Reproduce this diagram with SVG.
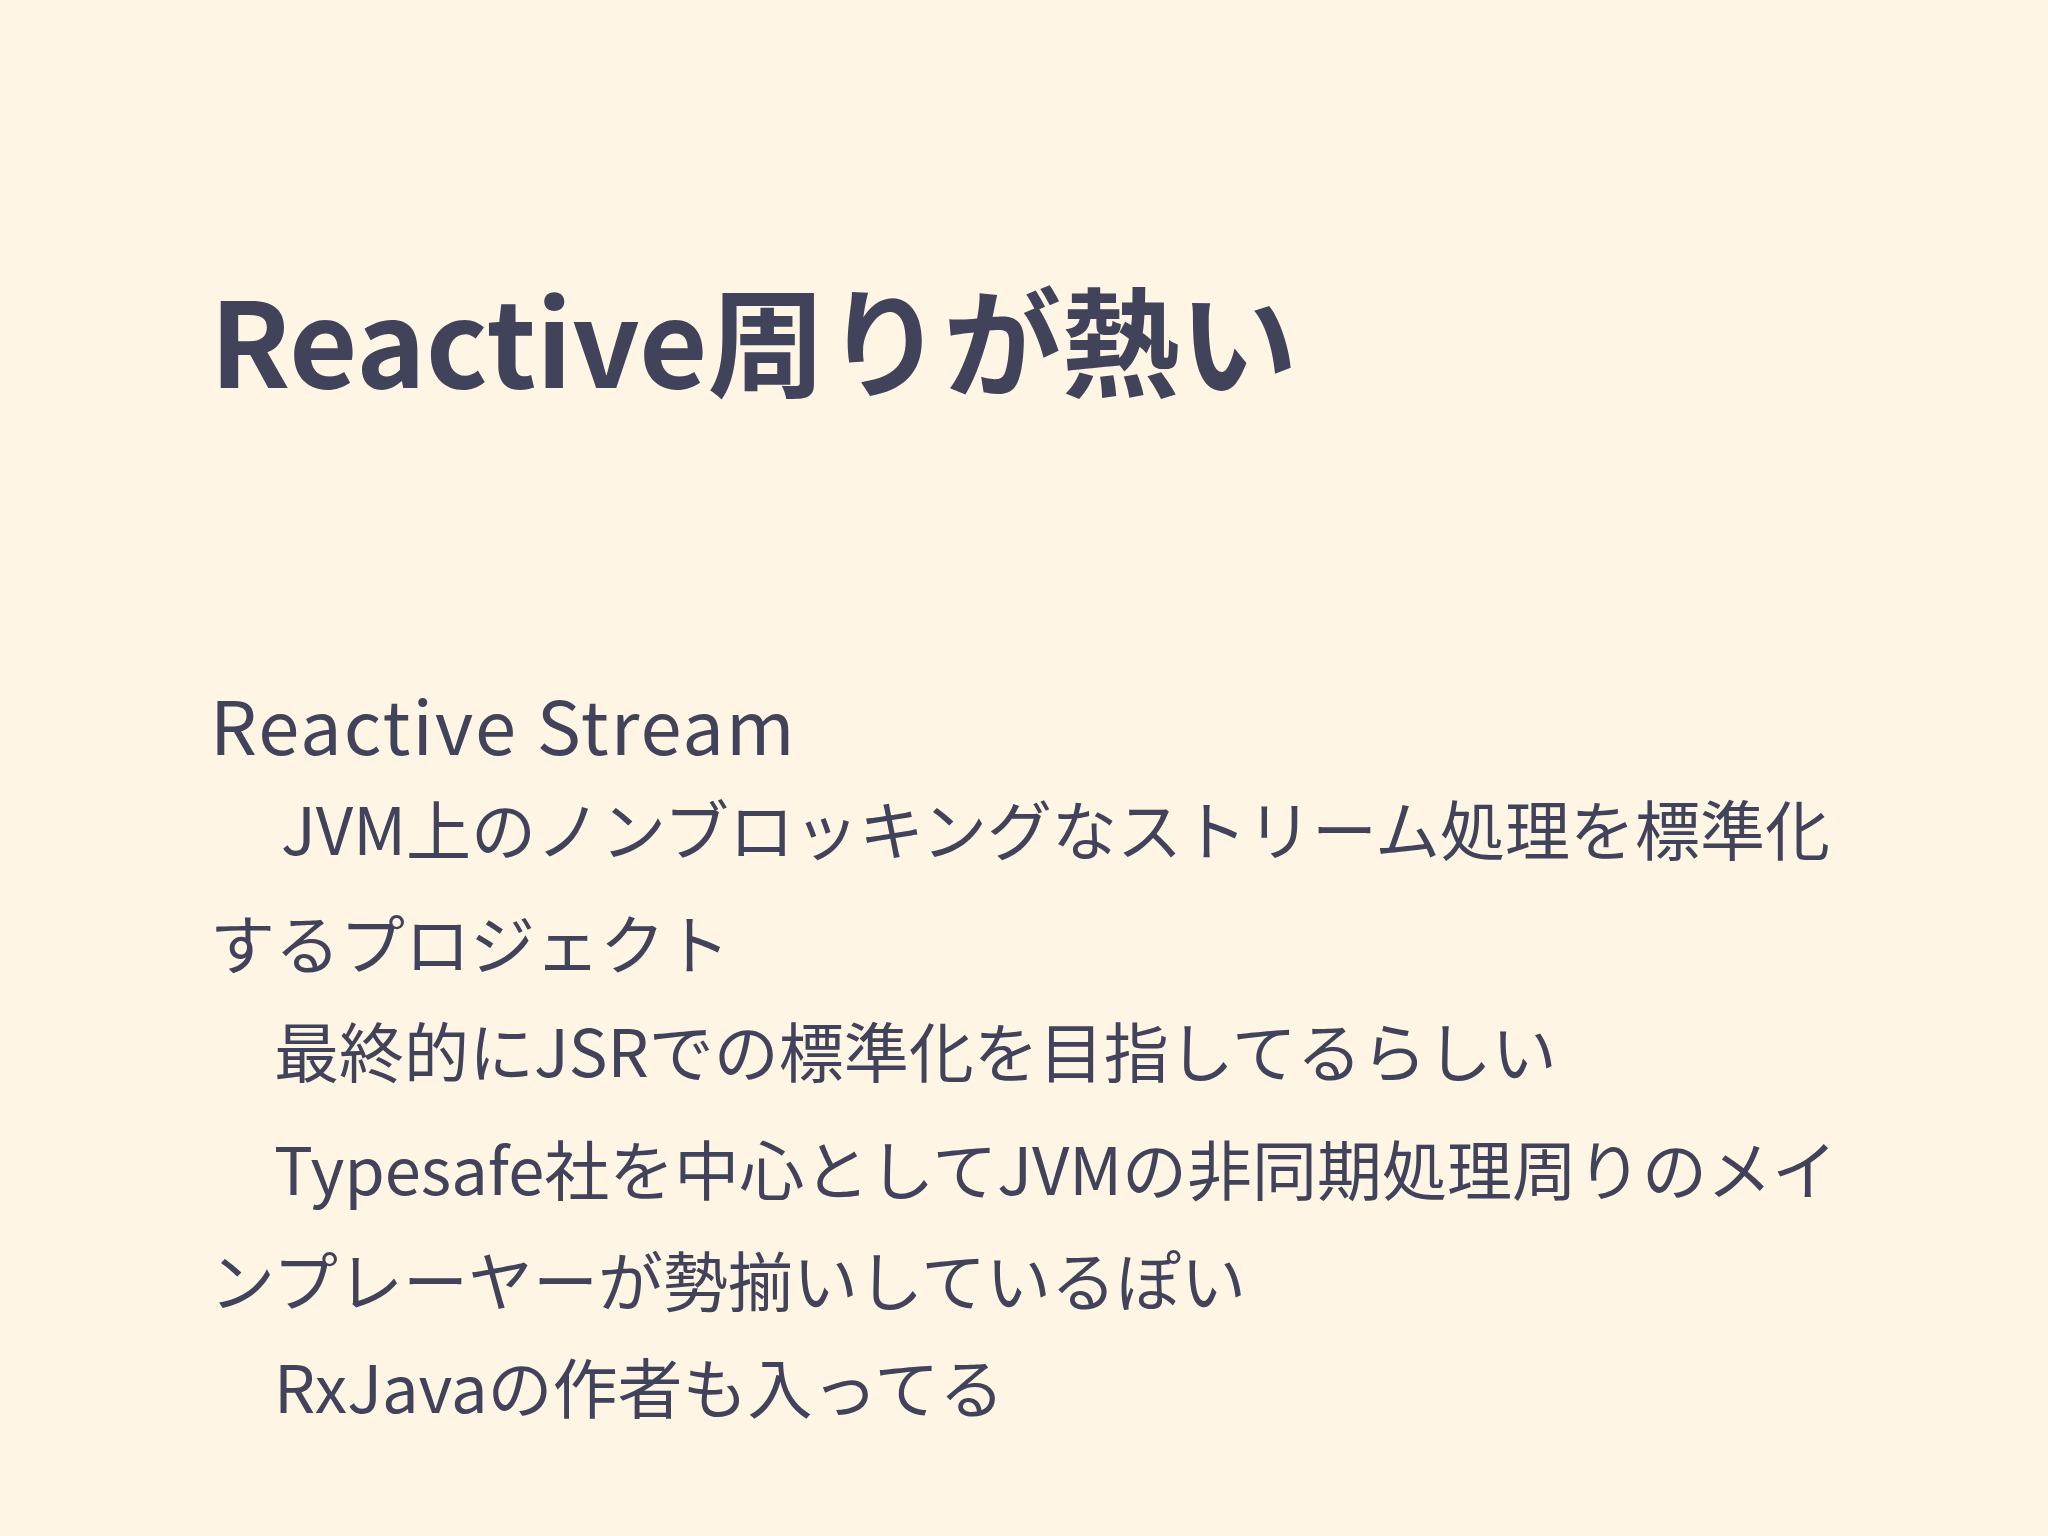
<svg xmlns="http://www.w3.org/2000/svg" width="2048" height="1536" viewBox="0 0 2048 1536">
<style>
.t{font-family:"Noto Sans CJK JP","Noto Sans",sans-serif;fill:#40435a}
.h{font-size:118px;font-weight:bold}
.b{font-size:65px}
.s{font-size:74px;letter-spacing:2px}
</style>
<rect width="2048" height="1536" fill="#fff5e5"/>
<g id="title"><text class="t h" x="210" y="388">Reactive周りが熱い</text></g>
<g id="body">
<text class="t s" x="210" y="755">Reactive Stream</text>
<text class="t b" x="281" y="855">JVM上のノンブロッキングなストリーム処理を標準化</text>
<text class="t b" x="210" y="969">するプロジェクト</text>
<text class="t b" x="274" y="1077">最終的にJSRでの標準化を目指してるらしい</text>
<text class="t b" x="274" y="1195">Typesafe社を中心としてJVMの非同期処理周りのメイ</text>
<text class="t b" x="210" y="1306">ンプレーヤーが勢揃いしているぽい</text>
<text class="t b" x="274" y="1413">RxJavaの作者も入ってる</text>
</g>
</svg>
